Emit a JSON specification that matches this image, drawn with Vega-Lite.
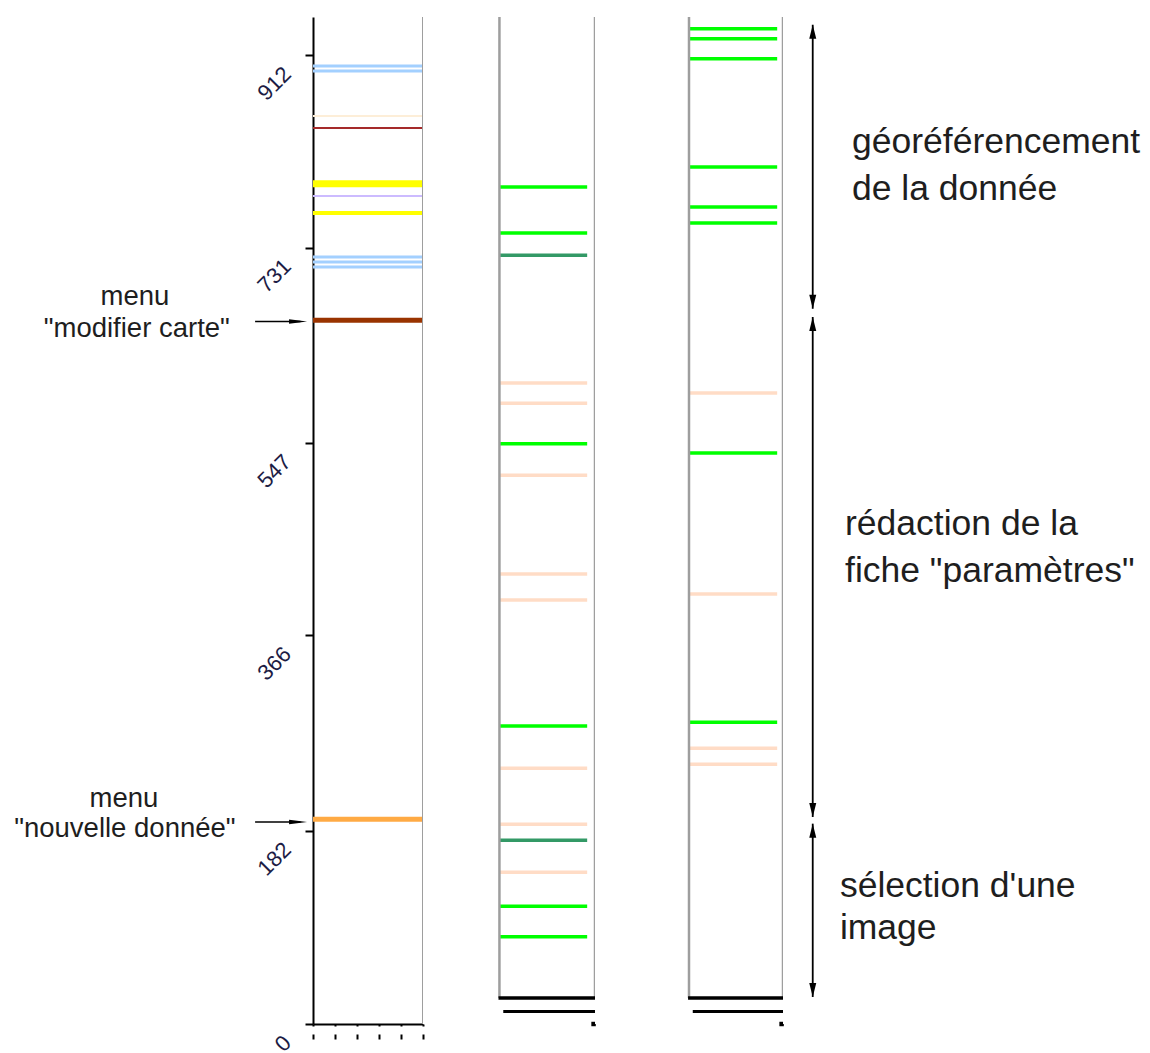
{
  "$schema": "https://vega.github.io/schema/vega-lite/v6.json",
  "background": "white",
  "padding": {"left": 0, "top": 15, "right": 0, "bottom": 0},
  "spacing": 0,
  "bounds": "flush",
  "config": {"view": {"stroke": null, "fill": "white"}, "font": "Liberation Sans", "axis": {"grid": false}},
  "datasets": {
    "marks": [
      {"col": 1, "t": 901.9, "kind": "bleu"},
      {"col": 1, "t": 897.2, "kind": "bleu"},
      {"col": 1, "t": 854.8, "kind": "beige"},
      {"col": 1, "t": 843.5, "kind": "rouge"},
      {"col": 1, "t": 791.1, "kind": "jauneEpais"},
      {"col": 1, "t": 779.5, "kind": "lavande"},
      {"col": 1, "t": 763.5, "kind": "jaune"},
      {"col": 1, "t": 722.1, "kind": "bleu"},
      {"col": 1, "t": 717.4, "kind": "bleu"},
      {"col": 1, "t": 712.7, "kind": "bleu"},
      {"col": 1, "t": 662.5, "kind": "brun"},
      {"col": 1, "t": 192.7, "kind": "orange"},
      {"col": 2, "t": 788.0, "kind": "vert"},
      {"col": 2, "t": 744.7, "kind": "vert"},
      {"col": 2, "t": 723.7, "kind": "vertFonce"},
      {"col": 2, "t": 603.5, "kind": "peche"},
      {"col": 2, "t": 584.3, "kind": "peche"},
      {"col": 2, "t": 546.3, "kind": "vert"},
      {"col": 2, "t": 516.6, "kind": "peche"},
      {"col": 2, "t": 423.6, "kind": "peche"},
      {"col": 2, "t": 399.2, "kind": "peche"},
      {"col": 2, "t": 280.5, "kind": "vert"},
      {"col": 2, "t": 240.7, "kind": "peche"},
      {"col": 2, "t": 188.0, "kind": "peche"},
      {"col": 2, "t": 172.9, "kind": "vertFonce"},
      {"col": 2, "t": 142.8, "kind": "peche"},
      {"col": 2, "t": 110.8, "kind": "vert"},
      {"col": 2, "t": 82.2, "kind": "vert"},
      {"col": 3, "t": 937.0, "kind": "vert"},
      {"col": 3, "t": 927.6, "kind": "vert"},
      {"col": 3, "t": 908.8, "kind": "vert"},
      {"col": 3, "t": 806.8, "kind": "vert"},
      {"col": 3, "t": 769.2, "kind": "vert"},
      {"col": 3, "t": 754.1, "kind": "vert"},
      {"col": 3, "t": 594.1, "kind": "peche"},
      {"col": 3, "t": 537.6, "kind": "vert"},
      {"col": 3, "t": 404.8, "kind": "peche"},
      {"col": 3, "t": 284.0, "kind": "vert"},
      {"col": 3, "t": 259.6, "kind": "peche"},
      {"col": 3, "t": 244.5, "kind": "peche"}
    ],
    "menus": [
      {"label": "menu", "t": 676.6, "at": 0.431},
      {"label": "\"modifier carte\"", "t": 646.8, "at": 0.437},
      {"label": "menu", "t": 204.3, "at": 0.396},
      {"label": "\"nouvelle donnée\"", "t": 176.1, "at": 0.399}
    ],
    "menuArrows": [
      {"menu": "modifier carte", "t": 661.4},
      {"menu": "nouvelle donnée", "t": 190.2}
    ],
    "phases": [
      {"phase": "géoréférencement de la donnée", "debut": 673.4, "fin": 940.8},
      {"phase": "rédaction de la fiche paramètres", "debut": 194.9, "fin": 665.6},
      {"phase": "sélection d'une image", "debut": 25.4, "fin": 188.6}
    ],
    "phaseLabels": [
      {"label": "géoréférencement", "t": 819.6, "at": 0.188},
      {"label": "de la donnée", "t": 775.8, "at": 0.188},
      {"label": "rédaction de la", "t": 460.4, "at": 0.169},
      {"label": "fiche \"paramètres\"", "t": 416.1, "at": 0.169},
      {"label": "sélection d'une", "t": 119.6, "at": 0.155},
      {"label": "image", "t": 80.0, "at": 0.155}
    ]
  },
  "hconcat": [
    {
      "width": 313,
      "height": 1007,
      "layer": [
        {
          "data": {"name": "menus"},
          "mark": {"type": "text", "align": "center", "baseline": "alphabetic", "fontSize": 27.5, "color": "#1e1e1e"},
          "encoding": {
            "x": {"field": "at", "type": "quantitative", "scale": {"domain": [0, 1]}, "axis": null},
            "y": {"field": "t", "type": "quantitative", "scale": {"domain": [0, 948], "nice": false}, "axis": null},
            "text": {"field": "label"}
          }
        },
        {
          "data": {"name": "menuArrows"},
          "mark": {"type": "rule", "color": "black", "strokeWidth": 1.5},
          "encoding": {
            "x": {"datum": 0.815, "axis": null},
            "x2": {"datum": 0.96},
            "y": {"field": "t", "type": "quantitative", "axis": null}
          }
        },
        {
          "data": {"name": "menuArrows"},
          "mark": {"type": "point", "shape": "M1,0L-1,-0.25L-1,0.25Z", "filled": true, "color": "black", "size": 324, "opacity": 1, "xOffset": -9},
          "encoding": {
            "x": {"datum": 0.981, "axis": null},
            "y": {"field": "t", "type": "quantitative", "axis": null}
          }
        }
      ]
    },
    {
      "width": 110,
      "height": 1007,
      "layer": [
        {
          "data": {"name": "marks"},
          "transform": [{"filter": "datum.col === 1"}],
          "mark": {"type": "rule"},
          "encoding": {
            "x": {"datum": 0, "type": "quantitative", "scale": {"domain": [0, 1], "nice": false},
              "axis": {"title": null, "orient": "bottom", "tickCount": 5, "labels": false, "labelOverlap": false, "domainColor": "black", "domainWidth": 2, "tickColor": "black", "tickWidth": 2, "tickSize": 15, "tickDash": [2, 8, 5, 0]}},
            "x2": {"datum": 1},
            "y": {"field": "t", "type": "quantitative", "scale": {"domain": [0, 948], "nice": false},
              "axis": {"title": null, "values": [0, 182, 366, 547, 731, 912], "domainColor": "black", "domainWidth": 2, "tickColor": "black", "tickWidth": 2, "tickSize": 8, "labelAngle": -45, "labelAlign": "right", "labelBaseline": "middle", "labelPadding": 18, "labelOffset": 15, "labelFontSize": 22, "labelColor": "#1c1c44", "labelOverlap": false, "labelBound": false, "labelFlush": false}},
            "color": {"field": "kind", "type": "nominal", "legend": null,
              "scale": {"type": "ordinal", "domain": ["bleu", "beige", "rouge", "jauneEpais", "jaune", "lavande", "brun", "orange", "vert", "vertFonce", "peche"],
                "range": ["#a3d0ff", "#fdeed8", "#a52a2a", "#ffff00", "#ffff00", "#ccbbff", "#993300", "#ffaa44", "#00ff00", "#339966", "#ffdcc6"]}},
            "strokeWidth": {"field": "kind", "type": "nominal", "legend": null,
              "scale": {"type": "ordinal", "domain": ["bleu", "beige", "rouge", "jauneEpais", "jaune", "lavande", "brun", "orange", "vert", "vertFonce", "peche"],
                "range": [3, 2, 2, 7, 4, 2, 5, 5, 3.5, 3.5, 3.5]}}
          }
        },
        {
          "data": {"values": [{}]},
          "mark": {"type": "rule", "color": "#9e9e9e", "strokeWidth": 2},
          "encoding": {"x": {"datum": 1}, "y": {"datum": 0}, "y2": {"datum": 948}}
        }
      ]
    },
    {
      "width": 172,
      "height": 1007,
      "layer": [
        {
          "data": {"name": "marks"},
          "transform": [{"filter": "datum.col === 2"}],
          "mark": {"type": "rule"},
          "encoding": {
            "x": {"datum": 0, "type": "quantitative", "scale": {"domain": [-0.7732, 1]}, "axis": null},
            "x2": {"datum": 0.918},
            "y": {"field": "t", "type": "quantitative", "scale": {"domain": [0, 948], "nice": false}, "axis": null},
            "color": {"field": "kind", "type": "nominal", "legend": null,
              "scale": {"type": "ordinal", "domain": ["bleu", "beige", "rouge", "jauneEpais", "jaune", "lavande", "brun", "orange", "vert", "vertFonce", "peche"],
                "range": ["#a3d0ff", "#fdeed8", "#a52a2a", "#ffff00", "#ffff00", "#ccbbff", "#993300", "#ffaa44", "#00ff00", "#339966", "#ffdcc6"]}},
            "strokeWidth": {"field": "kind", "type": "nominal", "legend": null,
              "scale": {"type": "ordinal", "domain": ["bleu", "beige", "rouge", "jauneEpais", "jaune", "lavande", "brun", "orange", "vert", "vertFonce", "peche"],
                "range": [3, 2, 2, 7, 4, 2, 5, 5, 3.5, 3.5, 3.5]}}
          }
        },
        {
          "data": {"values": [{}]},
          "mark": {"type": "rule", "color": "#9e9e9e", "strokeWidth": 2.5},
          "encoding": {"x": {"datum": 0, "axis": null}, "y": {"datum": 24.5, "axis": null}, "y2": {"datum": 948}}
        },
        {
          "data": {"values": [{}]},
          "mark": {"type": "rule", "color": "#9e9e9e", "strokeWidth": 2.5},
          "encoding": {"x": {"datum": 1, "axis": null}, "y": {"datum": 24.5, "axis": null}, "y2": {"datum": 948}}
        },
        {
          "data": {"values": [{}]},
          "mark": {"type": "rule", "color": "black", "strokeWidth": 3.5},
          "encoding": {"x": {"datum": -0.01, "axis": null}, "x2": {"datum": 1.005}, "y": {"datum": 24.5, "axis": null}}
        },
        {
          "data": {"values": [{}]},
          "mark": {"type": "rule", "color": "black", "strokeWidth": 3},
          "encoding": {"x": {"datum": 0.04, "axis": null}, "x2": {"datum": 1.0}, "y": {"datum": 11.8, "axis": null}}
        },
        {
          "data": {"values": [{}]},
          "mark": {"type": "point", "shape": "square", "filled": true, "color": "black", "size": 20, "opacity": 1},
          "encoding": {"x": {"datum": 0.985, "axis": null}, "y": {"datum": 0, "axis": null}}
        }
      ]
    },
    {
      "width": 188,
      "height": 1007,
      "layer": [
        {
          "data": {"name": "marks"},
          "transform": [{"filter": "datum.col === 3"}],
          "mark": {"type": "rule"},
          "encoding": {
            "x": {"datum": 0, "type": "quantitative", "scale": {"domain": [-0.938, 1]}, "axis": null},
            "x2": {"datum": 0.938},
            "y": {"field": "t", "type": "quantitative", "scale": {"domain": [0, 948], "nice": false}, "axis": null},
            "color": {"field": "kind", "type": "nominal", "legend": null,
              "scale": {"type": "ordinal", "domain": ["bleu", "beige", "rouge", "jauneEpais", "jaune", "lavande", "brun", "orange", "vert", "vertFonce", "peche"],
                "range": ["#a3d0ff", "#fdeed8", "#a52a2a", "#ffff00", "#ffff00", "#ccbbff", "#993300", "#ffaa44", "#00ff00", "#339966", "#ffdcc6"]}},
            "strokeWidth": {"field": "kind", "type": "nominal", "legend": null,
              "scale": {"type": "ordinal", "domain": ["bleu", "beige", "rouge", "jauneEpais", "jaune", "lavande", "brun", "orange", "vert", "vertFonce", "peche"],
                "range": [3, 2, 2, 7, 4, 2, 5, 5, 3.5, 3.5, 3.5]}}
          }
        },
        {
          "data": {"values": [{}]},
          "mark": {"type": "rule", "color": "#9e9e9e", "strokeWidth": 2.5},
          "encoding": {"x": {"datum": 0, "axis": null}, "y": {"datum": 24.5, "axis": null}, "y2": {"datum": 948}}
        },
        {
          "data": {"values": [{}]},
          "mark": {"type": "rule", "color": "#9e9e9e", "strokeWidth": 2.5},
          "encoding": {"x": {"datum": 1, "axis": null}, "y": {"datum": 24.5, "axis": null}, "y2": {"datum": 948}}
        },
        {
          "data": {"values": [{}]},
          "mark": {"type": "rule", "color": "black", "strokeWidth": 3.5},
          "encoding": {"x": {"datum": -0.01, "axis": null}, "x2": {"datum": 1.005}, "y": {"datum": 24.5, "axis": null}}
        },
        {
          "data": {"values": [{}]},
          "mark": {"type": "rule", "color": "black", "strokeWidth": 3},
          "encoding": {"x": {"datum": 0.04, "axis": null}, "x2": {"datum": 1.0}, "y": {"datum": 11.8, "axis": null}}
        },
        {
          "data": {"values": [{}]},
          "mark": {"type": "point", "shape": "square", "filled": true, "color": "black", "size": 20, "opacity": 1},
          "encoding": {"x": {"datum": 0.985, "axis": null}, "y": {"datum": 0, "axis": null}}
        }
      ]
    },
    {
      "width": 367,
      "height": 1007,
      "layer": [
        {
          "data": {"name": "phases"},
          "mark": {"type": "rule", "color": "black", "strokeWidth": 1.8},
          "encoding": {
            "x": {"datum": 0.081, "type": "quantitative", "scale": {"domain": [0, 1]}, "axis": null},
            "y": {"field": "debut", "type": "quantitative", "scale": {"domain": [0, 948], "nice": false}, "axis": null},
            "y2": {"field": "fin"}
          }
        },
        {
          "data": {"name": "phases"},
          "mark": {"type": "point", "shape": "M0,-1L0.5,1L-0.5,1Z", "filled": true, "color": "black", "size": 196, "opacity": 1, "yOffset": 7},
          "encoding": {"x": {"datum": 0.081, "axis": null}, "y": {"field": "fin", "type": "quantitative", "axis": null}}
        },
        {
          "data": {"name": "phases"},
          "mark": {"type": "point", "shape": "M0,1L0.5,-1L-0.5,-1Z", "filled": true, "color": "black", "size": 196, "opacity": 1, "yOffset": -7},
          "encoding": {"x": {"datum": 0.081, "axis": null}, "y": {"field": "debut", "type": "quantitative", "axis": null}}
        },
        {
          "data": {"name": "phaseLabels"},
          "mark": {"type": "text", "align": "left", "baseline": "alphabetic", "fontSize": 35.5, "color": "#1e1e1e"},
          "encoding": {
            "x": {"field": "at", "type": "quantitative", "axis": null},
            "y": {"field": "t", "type": "quantitative", "axis": null},
            "text": {"field": "label"}
          }
        }
      ]
    }
  ]
}
